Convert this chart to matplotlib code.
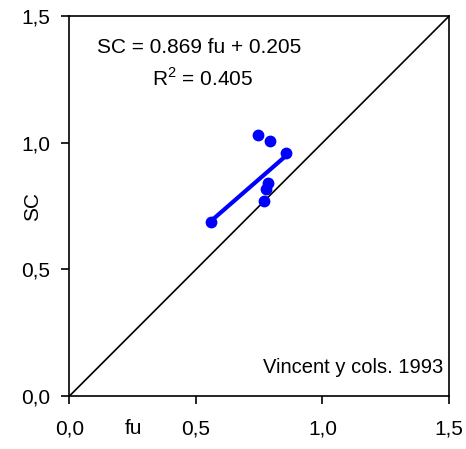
import matplotlib
matplotlib.use("Agg")
import matplotlib.pyplot as plt
import numpy as np

plt.rcParams['font.family'] = ['Liberation Sans', 'DejaVu Sans']
plt.rcParams['mathtext.fontset'] = 'custom'
plt.rcParams['mathtext.rm'] = 'Liberation Sans'

# datos
fu = [0.744, 0.792, 0.855, 0.783, 0.777, 0.769, 0.558]
sc = [1.030, 1.007, 0.960, 0.842, 0.816, 0.770, 0.688]
pendiente = 0.869
ordenada = 0.205
r2 = 0.405
ticks = [0.0, 0.5, 1.0, 1.5]
tick_labels = ['0,0', '0,5', '1,0', '1,5']

fig = plt.figure(figsize=(4.66, 4.49), dpi=100)
ax = fig.add_axes([0.149, 0.118, 0.8145, 0.846])

ax.plot([0, 1.5], [0, 1.5], color='black', linewidth=1.2)
xr = np.array([min(fu), max(fu)])
ax.plot(xr, pendiente * xr + ordenada, color='#0000FF', linewidth=3)
ax.plot(fu, sc, 'o', color='#0000FF', markersize=8.5, markeredgewidth=0)

ax.set_xlim(0, 1.5)
ax.set_ylim(0, 1.5)
ax.set_xticks(ticks)
ax.set_xticklabels(tick_labels)
ax.set_yticks(ticks)
ax.set_yticklabels(tick_labels)
ax.tick_params(direction='out', length=5.8, width=1.2, labelsize=15, pad=8)
ax.tick_params(axis='x', pad=11)
for s in ax.spines.values():
    s.set_linewidth(1.2)

ax.text(-0.0975, 0.5, 'SC', transform=ax.transAxes, fontsize=15,
        rotation=90, ha='center', va='center', rotation_mode='anchor')
# "fu" va en la misma linea que las etiquetas del eje x
ax.annotate('fu', xy=(0.170, 0), xycoords='axes fraction',
            xytext=(0, -16.8), textcoords='offset points',
            fontsize=15, ha='center', va='top')

ax.text(0.341, 0.918, 'SC = %.3f fu + %.3f' % (pendiente, ordenada),
        transform=ax.transAxes, fontsize=15, ha='center', va='center')
ax.text(0.350, 0.837, 'R$^\\mathrm{2}$ = %.3f' % r2, transform=ax.transAxes,
        fontsize=15, ha='center', va='center')
ax.text(0.984, 0.074, 'Vincent y cols. 1993', transform=ax.transAxes,
        fontsize=14.5, ha='right', va='center')

fig.savefig('out.png', dpi=100)
